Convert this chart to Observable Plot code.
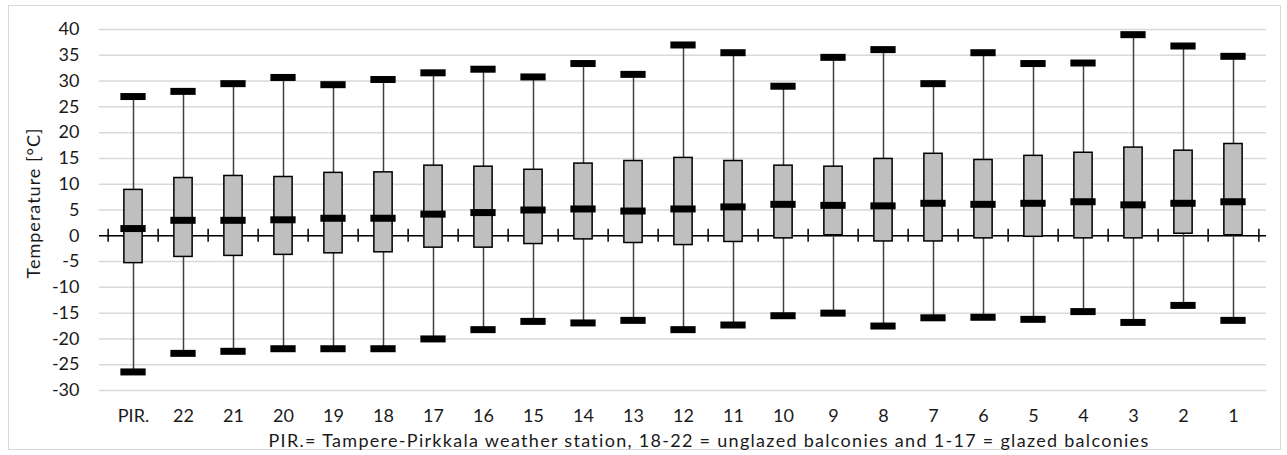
<!DOCTYPE html>
<html>
<head>
<meta charset="utf-8">
<script src="https://cdn.jsdelivr.net/npm/d3@7"></script>
<script src="https://cdn.jsdelivr.net/npm/@observablehq/plot@0.6"></script>
<style>
  html, body { margin: 0; padding: 0; background: #fff; }
  #wrap { position: relative; width: 1287px; height: 455px; }
  #border { position: absolute; left: 8px; top: 5px; width: 1271px; height: 443px; border: 1px solid #d9d9d9; pointer-events: none; }
</style>
</head>
<body>
<div id="wrap"><div id="border"></div></div>
<script>
const categories = ["PIR.","22","21","20","19","18","17","16","15","14","13","12","11","10","9","8","7","6","5","4","3","2","1"];
const maxVals = [27.0, 28.0, 29.5, 30.7, 29.3, 30.3, 31.6, 32.3, 30.8, 33.4, 31.3, 37.0, 35.5, 29.0, 34.6, 36.1, 29.5, 35.5, 33.4, 33.5, 39.0, 36.8, 34.8];
const q3Vals  = [8.9, 11.2, 11.6, 11.4, 12.2, 12.3, 13.6, 13.4, 12.8, 14.0, 14.5, 15.1, 14.5, 13.6, 13.4, 14.9, 15.9, 14.7, 15.5, 16.1, 17.1, 16.5, 17.8];
const medVals = [1.4, 3.0, 3.0, 3.1, 3.4, 3.4, 4.2, 4.5, 5.0, 5.2, 4.8, 5.2, 5.6, 6.1, 5.9, 5.8, 6.3, 6.1, 6.3, 6.6, 6.0, 6.3, 6.6];
const q1Vals  = [-5.3, -4.1, -3.9, -3.7, -3.4, -3.2, -2.3, -2.3, -1.6, -0.7, -1.4, -1.8, -1.2, -0.5, 0.1, -1.1, -1.1, -0.5, -0.2, -0.5, -0.5, 0.4, 0.1];
const minVals = [-26.4, -22.8, -22.4, -21.9, -21.9, -21.9, -20.0, -18.2, -16.6, -16.9, -16.4, -18.2, -17.3, -15.5, -15.0, -17.5, -15.9, -15.8, -16.2, -14.7, -16.8, -13.5, -16.4];
const yTicks = [-30, -25, -20, -15, -10, -5, 0, 5, 10, 15, 20, 25, 30, 35, 40];
const yLabel = "Temperature [°C]";
const xLabel = "PIR.= Tampere-Pirkkala weather station, 18-22 = unglazed balconies and 1-17 = glazed balconies";

const data = categories.map((c, i) => ({cat: c, max: maxVals[i], q3: q3Vals[i], med: medVals[i], q1: q1Vals[i], min: minVals[i]}));

const W = 1287, H = 455, ML = 99, MR = 21, MT = 29, MB = 65;
const bw = (W - ML - MR) / categories.length;
const capW = 26, boxW = 19;
const boxInset = (bw - boxW) / 2, capInset = (bw - capW) / 2;
const ink = "#1a1a1a";

const chart = Plot.plot({
  width: W, height: H,
  marginLeft: ML, marginRight: MR, marginTop: MT, marginBottom: MB,
  style: {fontFamily: "Lato, sans-serif", fontSize: "18px", color: ink, background: "transparent"},
  x: {domain: categories, padding: 0},
  y: {domain: [-30, 40]},
  marks: [
    Plot.gridY(yTicks, {stroke: "#d9d9d9", strokeOpacity: 1, strokeWidth: 1.5}),
    Plot.axisY(yTicks, {tickSize: 0, tickPadding: 20, tickFormat: d => String(d), label: null, fontSize: 18, fill: ink}),
    Plot.axisX({tickSize: 0, tickPadding: 19, label: null, fontSize: 18, fill: ink}),
    Plot.text([yLabel], {frameAnchor: "left", textAnchor: "middle", lineAnchor: "middle", rotate: -90, dx: -65, dy: -7, fontSize: 18, fill: ink}),
    Plot.text([xLabel], {frameAnchor: "bottom", textAnchor: "middle", lineAnchor: "middle", dy: 51, dx: 26, fontSize: 18, fill: ink}),
    Plot.ruleY([0], {stroke: "#000", strokeWidth: 1.5}),
    Plot.ruleX(categories, {x: d => d, y1: -1.25, y2: 1.25, dx: -bw / 2, stroke: "#000", strokeWidth: 1.5}),
    Plot.ruleX(categories.slice(-1), {x: d => d, y1: -1.25, y2: 1.25, dx: bw / 2, stroke: "#000", strokeWidth: 1.5}),
    Plot.ruleX(data, {x: "cat", y1: "min", y2: "max", stroke: "#404040", strokeWidth: 1.5}),
    Plot.barY(data, {x: "cat", y1: "q1", y2: "q3", fill: "#bfbfbf", stroke: "#000", strokeWidth: 1.5, insetLeft: boxInset, insetRight: boxInset}),
    Plot.tickY(data, {x: "cat", y: "max", stroke: "#000", strokeWidth: 7, insetLeft: capInset, insetRight: capInset}),
    Plot.tickY(data, {x: "cat", y: "min", stroke: "#000", strokeWidth: 7, insetLeft: capInset, insetRight: capInset}),
    Plot.tickY(data, {x: "cat", y: "med", stroke: "#000", strokeWidth: 7, insetLeft: capInset, insetRight: capInset})
  ]
});
chart.style.position = "absolute";
chart.style.left = "0px";
chart.style.top = "0px";
document.getElementById("wrap").appendChild(chart);

// widen letter spacing so the Lato text runs match the reference's text widths
const fit = (label, target) => {
  chart.querySelectorAll("text").forEach(t => {
    if (t.textContent === label) {
      const len = t.getComputedTextLength();
      if (len > 0 && len < target) t.style.letterSpacing = ((target - len) / (label.length - 1)) + "px";
    }
  });
};
fit(xLabel, 880);
fit(yLabel, 150);
</script>
</body>
</html>
